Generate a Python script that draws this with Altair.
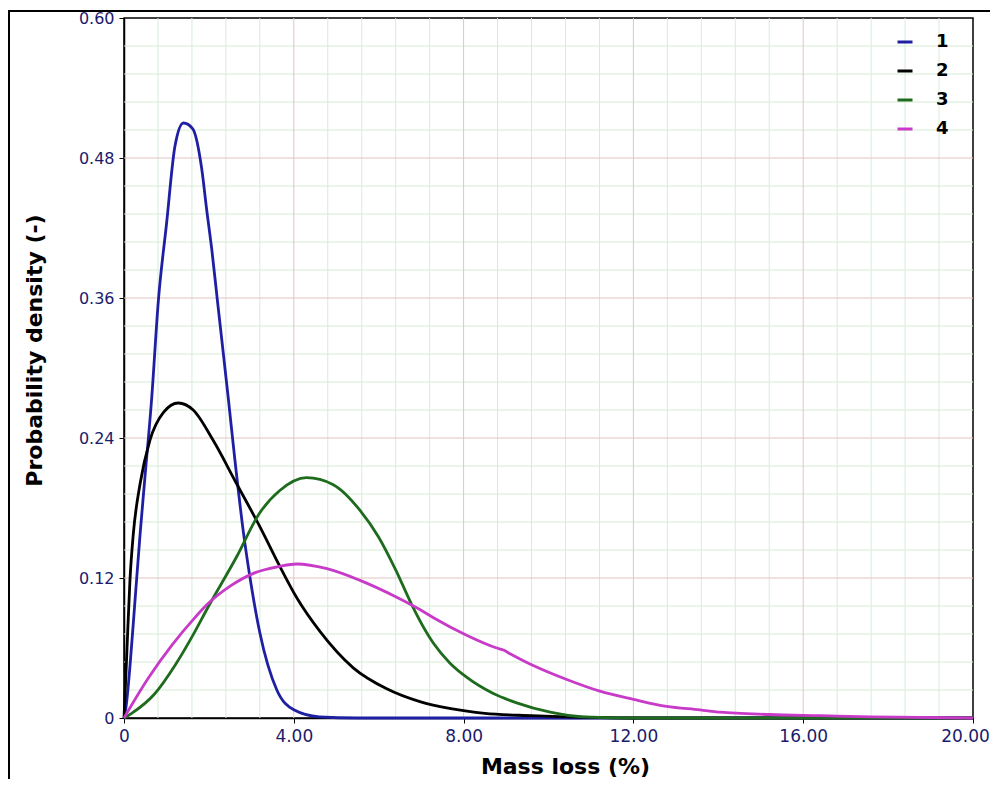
import altair as alt
import pandas as pd

# ---- data ----
x1 = [0, 0.05, 0.14, 0.26, 0.38, 0.49, 0.65, 0.81, 1.0, 1.2, 1.4, 1.62, 1.83, 1.95, 2.07, 2.2, 2.46, 2.61, 2.81, 2.97, 3.2, 3.6, 4.0, 4.6, 5.5, 20]
y1 = [0, 0.01, 0.044, 0.101, 0.158, 0.205, 0.273, 0.358, 0.423, 0.49, 0.51, 0.505, 0.471, 0.435, 0.401, 0.358, 0.273, 0.222, 0.160, 0.120, 0.073, 0.024, 0.007, 0.001, 0, 0]

x2 = [0, 0.06, 0.14, 0.22, 0.38, 0.61, 0.93, 1.28, 1.63, 2.10, 2.65, 3.20, 3.67, 4.07, 4.62, 5.40, 6.19, 6.97, 7.7, 8.5, 9.6, 11, 12, 20]
y2 = [0, 0.05, 0.118, 0.158, 0.201, 0.238, 0.262, 0.270, 0.264, 0.238, 0.201, 0.164, 0.130, 0.103, 0.074, 0.043, 0.025, 0.014, 0.008, 0.004, 0.002, 0.0005, 0, 0]

x3 = [0, 0.18, 0.73, 1.2, 1.67, 1.95, 2.65, 3.20, 3.67, 4.30, 4.93, 5.56, 6.0, 6.4, 6.78, 7.1, 7.29, 7.68, 8.07, 8.70, 9.25, 10.04, 10.82, 12, 20]
y3 = [0, 0.004, 0.021, 0.045, 0.074, 0.093, 0.138, 0.176, 0.195, 0.206, 0.200, 0.178, 0.155, 0.127, 0.097, 0.075, 0.064, 0.047, 0.035, 0.021, 0.013, 0.005, 0.001, 0, 0]

x4 = [0, 0.57, 1.12, 1.67, 1.95, 2.50, 3.05, 3.67, 4.07, 4.78, 5.56, 6.4, 6.97, 7.29, 8.07, 8.78, 8.95, 9.05, 9.64, 10.43, 11.21, 12.0, 12.78, 13.57, 14.04, 15.2, 16.4, 17.6, 20]
y4 = [0, 0.034, 0.062, 0.086, 0.097, 0.113, 0.124, 0.130, 0.132, 0.128, 0.118, 0.104, 0.093, 0.086, 0.071, 0.060, 0.058, 0.056, 0.045, 0.033, 0.023, 0.016, 0.010, 0.007, 0.005, 0.003, 0.002, 0.001, 0]

series_names = ["1", "2", "3", "4"]
series_colors = ["#1f1fa3", "#000000", "#1e6b1e", "#c83ac8"]

x_ticks = [0, 4, 8, 12, 16, 20]
y_ticks = [0, 0.12, 0.24, 0.36, 0.48, 0.60]
major_x = [4, 8, 12, 16]
minor_x = [0.8, 1.6, 2.4, 3.2, 4.8, 5.6, 6.4, 7.2, 8.8, 9.6, 10.4, 11.2, 12.8, 13.6, 14.4, 15.2, 16.8, 17.6, 18.4, 19.2]
major_y = [0.12, 0.24, 0.36, 0.48]
minor_y = [0.024, 0.048, 0.072, 0.096, 0.144, 0.168, 0.192, 0.216, 0.264, 0.288, 0.312, 0.336,
           0.384, 0.408, 0.432, 0.456, 0.504, 0.528, 0.552, 0.576]

rows = []
for name, xs, ys in zip(series_names, [x1, x2, x3, x4], [y1, y2, y3, y4]):
    for i, (a, b) in enumerate(zip(xs, ys)):
        rows.append({"series": name, "x": a, "y": b, "order": i})
df = pd.DataFrame(rows)

xscale = alt.Scale(domain=[0, 20], nice=False, zero=False)
yscale = alt.Scale(domain=[0, 0.6], nice=False, zero=False)

minor_xv = alt.Chart(pd.DataFrame({"x": minor_x})).mark_rule(color="#d6ecd6", strokeWidth=1).encode(
    x=alt.X("x:Q", scale=xscale))
minor_yv = alt.Chart(pd.DataFrame({"y": minor_y})).mark_rule(color="#d6ecd6", strokeWidth=1).encode(
    y=alt.Y("y:Q", scale=yscale))
major_xv = alt.Chart(pd.DataFrame({"x": major_x})).mark_rule(color="#e2c4c4", strokeWidth=1).encode(
    x=alt.X("x:Q", scale=xscale))
major_yv = alt.Chart(pd.DataFrame({"y": major_y})).mark_rule(color="#e2c4c4", strokeWidth=1).encode(
    y=alt.Y("y:Q", scale=yscale))

label_expr = "datum.value == 0 ? '0' : format(datum.value, '.2f')"

lines = alt.Chart(df).mark_line(strokeWidth=2.8, interpolate="monotone").encode(
    x=alt.X("x:Q", scale=xscale, axis=alt.Axis(
        values=x_ticks, labelExpr=label_expr, grid=False, title="Mass loss (%)",
        titleX=441, titleY=55, titleAlign="center", titleBaseline="alphabetic",
        labelFontSize=17, labelFlush=False, labelOverlap=False,
        labelOffset=alt.condition("datum.value == 20", alt.value(-8), alt.value(0)))),
    y=alt.Y("y:Q", scale=yscale, axis=alt.Axis(
        values=y_ticks, labelExpr=label_expr, grid=False, title="Probability density (-)",
        titleX=-83, titleY=332, titleAngle=270, titleAlign="center", titleBaseline="alphabetic",
        labelFlush=False, labelOverlap=False)),
    color=alt.Color("series:N", scale=alt.Scale(domain=series_names, range=series_colors),
                    legend=alt.Legend(orient="none", legendX=772, legendY=15, title=None,
                                      symbolType="stroke", symbolSize=225, symbolStrokeWidth=3,
                                      labelFontSize=18, labelFontWeight="bold", labelFont="DejaVu Sans",
                                      labelColor="black", labelOffset=22, rowPadding=11, padding=0)),
    order="order:Q",
)

frame = alt.Chart(pd.DataFrame({"a": [0]})).mark_rect(fill="transparent", stroke="black", strokeWidth=2).encode(
    x=alt.value(-115), x2=alt.value(880), y=alt.value(-7), y2=alt.value(820))

chart = alt.layer(minor_xv, minor_yv, major_xv, major_yv, lines, frame).properties(
    width=849, height=700,
    autosize=alt.AutoSizeParams(type="none"),
    padding={"left": 116, "top": 10, "right": 17, "bottom": 61},
).configure_view(stroke="black", strokeWidth=1.5).configure_axis(
    domainColor="black", domainWidth=1.5, tickColor="black", tickSize=5, tickWidth=1,
    labelFont="DejaVu Sans", labelFontSize=16, labelColor="#1b1b6b", labelPadding=5,
    titleFont="DejaVu Sans", titleFontSize=22, titleFontWeight="bold", titleColor="black",
)

chart.save("out.html", embed_options={"renderer": "svg", "actions": False})
